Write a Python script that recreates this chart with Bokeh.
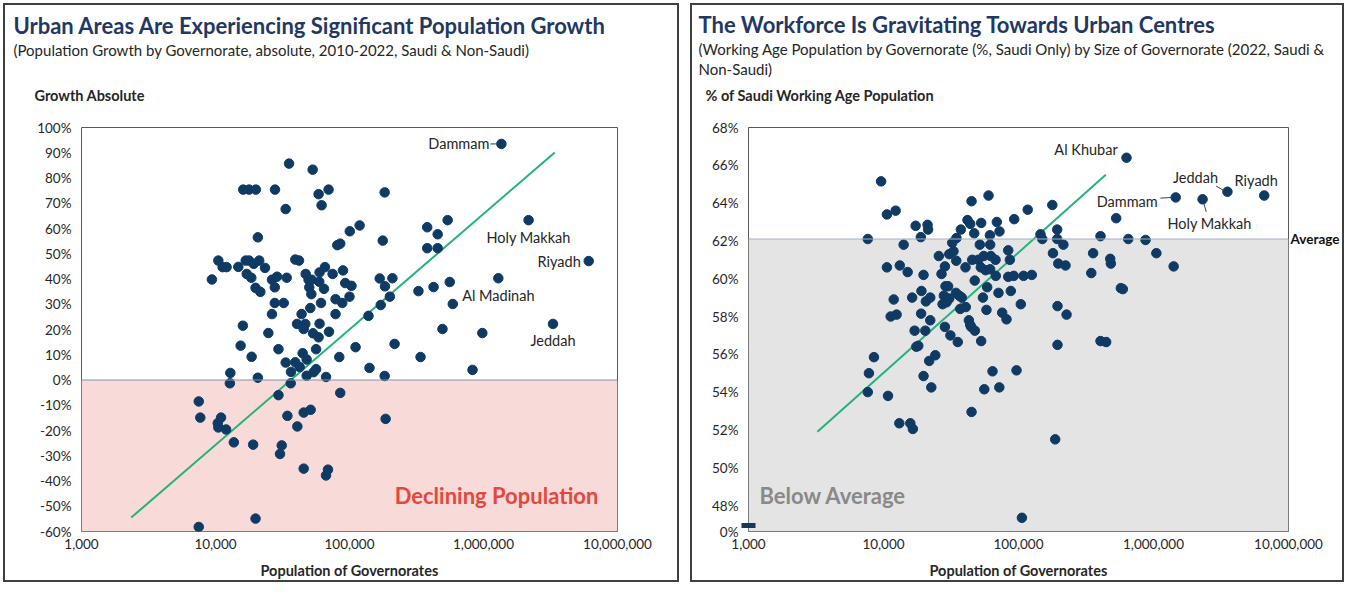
from math import log10
from bokeh.plotting import figure
from bokeh.models import (Label, Span, BoxAnnotation, FixedTicker, NumeralTickFormatter,
                          PrintfTickFormatter, Range1d, Title, LinearAxis,
                          LogAxis, CustomJSTickFormatter)
from bokeh.layouts import row
from bokeh.embed import file_html
from bokeh.resources import INLINE

# ---------------- DATA ----------------
x_ticks = [1000, 10000, 100000, 1000000, 10000000]
growth_ticks = list(range(-60, 101, 10))
work_ticks = [46.625, 48, 50, 52, 54, 56, 58, 60, 62, 64, 66, 68]

# Left chart: population growth 2010-2022 vs population
growth_pop = [35400, 53100, 16100, 17800, 20000, 27800, 69800, 58800, 61900, 33400,
              183000, 119000, 100500, 177000, 20700, 81100, 85300, 10500, 11300, 12100,
              16800, 17800, 21200, 19300, 14800, 23400, 39400, 42000, 9400, 17100,
              18500, 26400, 28800, 34000, 47100, 49500, 52200, 59800, 65600, 74800,
              89400, 59500, 64500, 50100, 92900, 103500, 27700, 19900, 21600, 51900,
              78700, 100000, 168000, 184000, 200000, 27700, 32300, 61300, 88300, 171000,
              26400, 43900, 51000, 78700, 138600, 16000, 40600, 46800, 45500, 59800,
              70300, 53400, 58800, 24800, 15400, 29500, 56300, 111000, 18600, 44700,
              47900, 83900, 33400, 39400, 42500, 36600, 56300, 54000, 47900, 66800,
              141000, 183000, 12900, 20700, 12800, 36400, 29500, 85300, 7500, 7700,
              11000, 10400, 10500, 12000, 34400, 45500, 51300, 40800, 186000, 13700,
              19100, 31200, 30300, 45500, 69100, 66800, 19900, 7500,
              540000, 380000, 455000, 380000, 455000, 560000, 424000, 327000, 590000, 209000,
              494000, 980000, 217000, 339000, 828000]
growth_pct = [85.7, 83.3, 75.4, 75.4, 75.4, 75.4, 75.4, 73.6, 69.2, 67.7,
              74.3, 61.2, 58.9, 55.2, 56.5, 53.4, 54.0, 47.3, 44.7, 44.7,
              47.3, 47.3, 47.3, 46.0, 44.8, 44.4, 47.7, 47.3, 39.8, 42.0,
              40.5, 39.7, 40.9, 40.5, 42.0, 39.7, 39.7, 42.6, 44.7, 42.0,
              43.4, 38.9, 36.1, 36.7, 38.4, 37.3, 36.7, 36.5, 34.9, 34.0,
              32.0, 33.0, 40.2, 37.1, 33.0, 30.5, 30.5, 30.5, 30.5, 29.7,
              26.1, 26.1, 28.5, 26.1, 25.4, 21.5, 22.2, 22.2, 20.2, 22.3,
              19.1, 18.5, 16.9, 18.6, 13.6, 12.2, 12.2, 13.0, 9.2, 10.6,
              8.1, 9.1, 6.9, 7.0, 5.1, 3.2, 4.3, 3.1, 1.7, 1.2,
              4.8, 1.6, 2.8, 0.9, -1.3, -1.3, -6.0, -5.1, -8.5, -14.9,
              -14.9, -17.1, -18.8, -19.6, -14.2, -12.9, -11.8, -18.4, -15.4, -24.7,
              -25.6, -25.9, -29.3, -35.1, -35.5, -37.8, -54.9, -58.2,
              63.3, 60.5, 57.7, 52.2, 52.2, 38.8, 36.8, 35.2, 30.1, 40.3,
              20.2, 18.6, 14.3, 9.1, 4.0]
growth_cities = ["Dammam", "Holy Makkah", "Riyadh", "Al Madinah", "Jeddah"]
growth_city_pop = [1360000, 2170000, 6100000, 1290000, 3300000]
growth_city_pct = [93.5, 63.3, 47.1, 40.3, 22.2]
growth_trend_pop = [2350, 3400000]
growth_trend_pct = [-54.5, 90.1]

# Right chart: % Saudi working age population vs population
work_pop = [9600, 10600, 12300, 7650, 17300, 21200, 21400, 18900, 14100, 44900,
            60000, 117000, 41900, 43900, 52900, 69100, 92900, 37400, 47000, 61400,
            72300, 34700, 32300, 51700, 61700, 83900, 25700, 30700, 33000, 34600,
            45400, 50300, 55300, 62400, 67600, 86300, 10600, 13200, 15100, 28500,
            40500, 52600, 57000, 61700, 67900, 83900, 92300, 109000, 125500, 19800,
            26900, 47400, 58600, 28800, 30100, 71100, 87700, 19100, 11900, 16300,
            20600, 22200, 28000, 30700, 34400, 36400, 38000, 27400, 29300, 54500,
            37000, 40700, 57900, 104000, 11300, 12500, 19000, 22200, 42900, 43900,
            75700, 81500, 17000, 20400, 28500, 31300, 35500, 44600, 47500, 52900,
            17500, 18100, 8500, 24200, 21800, 7800, 19800, 64200, 96700, 7650,
            10800, 22600, 55800, 72100, 44900, 13100, 15800, 16500, 106000,
            178000, 529000, 193500, 145500, 150000, 193500, 215000, 405000, 650000, 873000,
            180000, 357000, 1050000, 197000, 223000, 478000, 483000, 346000, 1410000, 573000,
            593000, 194500, 227000, 194500, 405000, 446000, 187000]
work_pct = [65.15, 63.4, 63.6, 62.1, 62.8, 62.85, 62.6, 62.2, 61.8, 64.1,
            64.4, 63.65, 63.1, 62.9, 62.95, 63.0, 63.15, 62.6, 62.4, 62.3,
            62.5, 62.15, 61.9, 61.8, 61.8, 61.5, 61.2, 61.3, 61.45, 60.95,
            61.0, 61.0, 61.2, 61.2, 61.0, 61.0, 60.6, 60.7, 60.35, 60.65,
            60.6, 60.6, 60.45, 60.5, 60.15, 60.1, 60.15, 60.15, 60.2, 60.2,
            60.25, 59.9, 59.55, 59.6, 59.6, 59.25, 59.35, 59.35, 58.9, 59.0,
            58.8, 59.0, 59.1, 58.95, 59.25, 59.1, 59.0, 58.65, 58.75, 59.0,
            58.4, 58.5, 58.35, 58.65, 58.0, 58.1, 58.15, 57.8, 57.8, 57.55,
            58.2, 57.85, 57.25, 57.25, 57.45, 57.0, 56.65, 57.45, 57.25, 56.7,
            56.4, 56.45, 55.85, 55.95, 55.65, 55.0, 54.85, 55.1, 55.15, 54.0,
            53.8, 54.25, 54.15, 54.25, 52.95, 52.35, 52.35, 52.05, 47.35,
            63.9, 63.2, 62.6, 62.35, 62.1, 62.1, 61.8, 62.25, 62.1, 62.05,
            61.35, 61.35, 61.35, 60.8, 60.7, 61.05, 60.8, 60.3, 60.65, 59.5,
            59.45, 58.55, 58.1, 56.5, 56.7, 56.65, 51.5]
work_cities = ["Al Khubar", "Jeddah", "Riyadh", "Dammam", "Holy Makkah"]
work_city_pop = [631000, 3530000, 6610000, 1460000, 2310000]
work_city_pct = [66.4, 64.6, 64.4, 64.3, 64.2]
work_trend_pop = [3240, 443000]
work_trend_pct = [51.9, 65.5]
work_average = 62.1

# ---------------- STYLE ----------------
FONT = "Lato"
NAVY = "#0F3A63"
TITLE_C = "#1F3864"
TXT = "#262626"
GREEN = "#22B27A"
H = 585


class Mapper:
    """reference-pixel -> data helper for a log-x / linear-y frame"""
    def __init__(s, left, right, top, bottom, x0, x1, y0, y1):
        s.left, s.top = left, top
        s.lx0 = log10(x0)
        s.y1 = y1
        s.ppd = (right - left) / (log10(x1) - log10(x0))
        s.ppu = (bottom - top) / (y1 - y0)

    def X(s, px):
        return 10 ** (s.lx0 + (px - s.left) / s.ppd)

    def Y(s, py):
        return s.y1 - (py - s.top) / s.ppu

    def ox(s, xv, d):
        return xv * 10 ** (d / s.ppd)

    def oy(s, yv, d):
        return yv - d / s.ppu


def make_fig(width, mbl, mbr, y0, y1, yticks):
    p = figure(width=width, height=H, x_axis_type="log", title=None,
               x_range=Range1d(1000, 10000000), y_range=Range1d(y0, y1),
               output_backend="svg", toolbar_location=None,
               min_border_left=mbl, min_border_right=mbr,
               min_border_top=127, min_border_bottom=H - 531)
    p.xgrid.visible = False
    p.ygrid.visible = False
    p.outline_line_color = "#595959"
    p.outline_line_width = 1
    p.background_fill_color = "white"
    # transparent margins so the panel frame drawn by the host element shows through
    p.border_fill_alpha = 0
    for ax in (p.xaxis[0], p.yaxis[0]):
        ax.axis_line_color = None
        ax.major_tick_line_color = None
        ax.minor_tick_line_color = None
        ax.major_tick_out = 0
        ax.major_tick_in = 0
        ax.minor_tick_out = 0
        ax.minor_tick_in = 0
        ax.major_label_text_font = FONT
        ax.major_label_text_font_size = "13.5px"
        ax.major_label_text_color = TXT
    p.xaxis.ticker = FixedTicker(ticks=x_ticks)
    p.xaxis.formatter = NumeralTickFormatter(format="0,0")
    p.xaxis.major_label_standoff = 7
    p.xaxis.axis_label = "Population of Governorates"
    p.xaxis.axis_label_text_font = FONT
    p.xaxis.axis_label_text_font_size = "14.5px"
    p.xaxis.axis_label_text_font_style = "bold"
    p.xaxis.axis_label_text_color = TXT
    p.xaxis.axis_label_standoff = 10
    p.yaxis.ticker = FixedTicker(ticks=yticks)
    p.yaxis.formatter = PrintfTickFormatter(format="%d%%")
    p.yaxis.major_label_standoff = 10
    p.styles = {"background-color": "white",
                "box-shadow": "inset 0 0 0 3px #ffffff, inset 0 0 0 5px #404040"}
    return p


def head(p, text, size, color=TXT, bold=False, offset=0):
    p.add_layout(Title(text=text, text_font=FONT, text_font_size=f"{size}px",
                       text_color=color, text_font_style="bold" if bold else "normal",
                       align="left", offset=offset, standoff=0), "above")


def gap(p, g):
    # label-less axis with a white (invisible) tick: only opens vertical room between headings
    p.add_layout(LogAxis(ticker=FixedTicker(ticks=[1000]), major_tick_out=int(round(g)),
                         major_tick_in=0, minor_tick_out=0, minor_tick_in=0,
                         major_tick_line_color="white", major_tick_line_alpha=0.01,
                         minor_tick_line_color=None,
                         axis_line_color=None, major_label_text_alpha=0,
                         major_label_standoff=0), "above")


def label(p, m, px, py, text, size, color=TXT, bold=False, align="left"):
    p.add_layout(Label(x=m.X(px), y=m.Y(py), text=text, text_font=FONT,
                       text_font_size=f"{size}px", text_color=color,
                       text_font_style="bold" if bold else "normal",
                       text_align=align, text_baseline="middle"))


def city_label(p, m, xv, yv, dx, dy, text, align):
    p.add_layout(Label(x=m.ox(xv, dx), y=m.oy(yv, dy), text=text, text_font=FONT,
                       text_font_size="14.5px", text_color=TXT,
                       text_align=align, text_baseline="middle"))


def leader(p, m, xv, yv, d0, d1):
    p.segment(x0=[m.ox(xv, d0[0])], y0=[m.oy(yv, d0[1])],
              x1=[m.ox(xv, d1[0])], y1=[m.oy(yv, d1[1])],
              line_color="#404040", line_width=1)


# ---------------- LEFT ----------------
mL = Mapper(81, 617, 128, 533, 1000, 10000000, -60, 100)
p1 = make_fig(682, 81, 65, -60, 100, growth_ticks)
p1.add_layout(BoxAnnotation(top=0, fill_color="#F8DAD8", fill_alpha=1, line_color=None, level="underlay"))
p1.add_layout(Span(location=0, dimension="width", line_color="#8392A8", line_width=1))
p1.line(growth_trend_pop, growth_trend_pct, line_color=GREEN, line_width=2)
p1.scatter(growth_pop + growth_city_pop, growth_pct + growth_city_pct, size=9.5,
           fill_color=NAVY, line_color=NAVY)

left_lab = {"Dammam": (-12, 0, "right"), "Holy Makkah": (0, 17, "center"),
            "Riyadh": (-8, 0, "right"), "Al Madinah": (0, 17, "center"),
            "Jeddah": (0, 17, "center")}
for n, xv, yv in zip(growth_cities, growth_city_pop, growth_city_pct):
    dx, dy, al = left_lab[n]
    city_label(p1, mL, xv, yv, dx, dy, n, al)
    if n == "Dammam":
        leader(p1, mL, xv, yv, (-11, 0), (-4, 0))

label(p1, mL, 496, 497, "Declining Population", 22, "#E5473D", True, "center")

# headings (stacked outward from the frame)
gap(p1, 24)
head(p1, "Growth Absolute", 14.5, TXT, True, offset=-47)
gap(p1, 26)
head(p1, "(Population Growth by Governorate, absolute, 2010-2022, Saudi & Non-Saudi)", 15, offset=-68)
head(p1, "Urban Areas Are Experiencing Significant Population Growth", 22, TITLE_C, True, offset=-68)

# ---------------- RIGHT ----------------
mR = Mapper(753, 1293, 128, 533, 1000, 10000000, 46.625, 68)
p2 = make_fig(660, 61, 59, 46.625, 68, work_ticks)
yax2 = p2.yaxis[0]
yax2.formatter = CustomJSTickFormatter(code="return tick < 47 ? '0%' : tick.toFixed(0) + '%'")
yax2.major_label_standoff = 3
p2.add_layout(BoxAnnotation(top=work_average, fill_color="#E4E4E4", fill_alpha=1,
                            line_color=None, level="underlay"))
p2.add_layout(Span(location=work_average, dimension="width", line_color="#A3B0C2", line_width=1))
p2.line(work_trend_pop, work_trend_pct, line_color=GREEN, line_width=2)
p2.scatter(work_pop + work_city_pop, work_pct + work_city_pct, size=9.5,
           fill_color=NAVY, line_color=NAVY)

avg_axis = LinearAxis(ticker=FixedTicker(ticks=[work_average]),
                      formatter=CustomJSTickFormatter(code="return 'Average'"),
                      axis_line_color=None, major_tick_line_color=None,
                      minor_tick_line_color=None, major_tick_out=0, major_tick_in=0,
                      minor_tick_out=0, minor_tick_in=0, major_label_standoff=2,
                      major_label_text_font=FONT, major_label_text_font_size="13.5px",
                      major_label_text_font_style="bold", major_label_text_color="#111111")
p2.add_layout(avg_axis, "right")

# axis-break mark: a short thick tick straddling the left axis near the bottom
brk_axis = LinearAxis(ticker=FixedTicker(ticks=[mR.Y(527)]), major_tick_in=7, major_tick_out=7,
                      major_tick_line_color="#17375E", major_tick_line_width=5,
                      minor_tick_line_color=None, minor_tick_in=0, minor_tick_out=0,
                      axis_line_color=None, major_label_text_alpha=0, major_label_standoff=0)
p2.left = [brk_axis] + list(p2.left)

right_lab = {"Al Khubar": (-40.5, -8.7, "center"), "Jeddah": (-32, -14.7, "center"),
             "Riyadh": (-8, -15, "center"), "Dammam": (-18, 4.4, "right"),
             "Holy Makkah": (7, 24.3, "center")}
right_leaders = {"Jeddah": ((-11.3, -5.7), (-3.7, -1.3)),
                 "Dammam": ((-15.3, 0.7), (-3.6, 0)),
                 "Holy Makkah": ((1.3, 4.3), (3.7, 12.6))}
for n, xv, yv in zip(work_cities, work_city_pop, work_city_pct):
    dx, dy, al = right_lab[n]
    city_label(p2, mR, xv, yv, dx, dy, n, al)
    if n in right_leaders:
        leader(p2, mR, xv, yv, *right_leaders[n])

label(p2, mR, 764, 497, "Below Average", 22, "#898989", True)

gap(p2, 24)
head(p2, "% of Saudi Working Age Population", 14.5, TXT, True, offset=-43)
gap(p2, 7)
head(p2, "Non-Saudi)", 15, offset=-50)
head(p2, "(Working Age Population by Governorate (%, Saudi Only) by Size of Governorate (2022, Saudi &", 15, offset=-50)
head(p2, "The Workforce Is Gravitating Towards Urban Centres", 22, TITLE_C, True, offset=-50)

layout = row(p1, p2, spacing=5)
open("out.html", "w").write(file_html(layout, INLINE))
